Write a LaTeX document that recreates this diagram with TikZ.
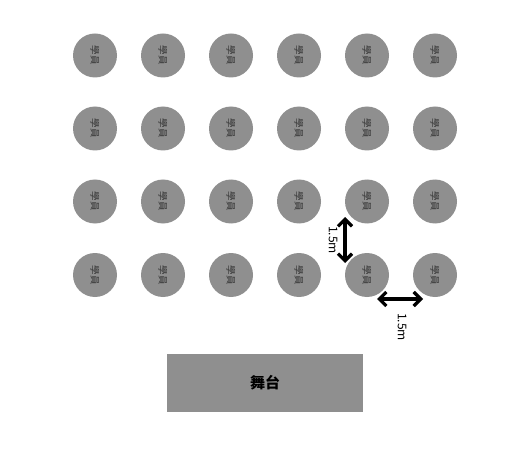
\documentclass[tikz,border=0pt]{standalone}
\usepackage{fontspec}
\setmainfont{Noto Sans CJK TC}
\usetikzlibrary{arrows.meta,positioning,calc}

\begin{document}
\begin{tikzpicture}[
    x=1pt, y=-1pt,
    seat/.style={circle, fill=seatgray, minimum size=44pt, inner sep=0pt,
        text=black!80, font=\fontsize{9.5}{10}\selectfont, rotate=-90},
    stage/.style={rectangle, fill=seatgray, minimum width=196pt, minimum height=58pt,
        font=\fontsize{15}{16}\selectfont\bfseries},
    dim/.style={{Straight Barb[length=7pt,width=14pt]}-{Straight Barb[length=7pt,width=14pt]}, line width=3.2pt},
    dimlabel/.style={font=\fontsize{12}{13}\selectfont, rotate=-90}
]
    \definecolor{seatgray}{HTML}{8F8F8F}
    \useasboundingbox (0,0) rectangle (519,449);

    % seats: 4 rows x 6 columns
    \foreach \r/\yy in {1/55.5, 2/128.5, 3/201.5, 4/275} {
        \foreach \c/\xx in {1/95, 2/163, 3/231, 4/299, 5/367, 6/435} {
            \node[seat] (s\r\c) at (\xx, \yy) {學員};
        }
    }

    % stage
    \node[stage] (stage) at (265, 383) {舞台};

    % spacing marks
    \coordinate (vtop) at ($(s35)+(-22,15.5)$);
    \coordinate (vbot) at ($(s45)+(-22,-12)$);
    \draw[dim] (vtop) -- (vbot);
    \node[dimlabel] (vlab) at (333, 240) {1.5m};

    \coordinate (hleft) at ($(s45)+(10,24)$);
    \coordinate (hright) at ($(s46)+(-12,24)$);
    \draw[dim] (hleft) -- (hright);
    \node[dimlabel] (hlab) at (402, 327) {1.5m};
\end{tikzpicture}
\end{document}
